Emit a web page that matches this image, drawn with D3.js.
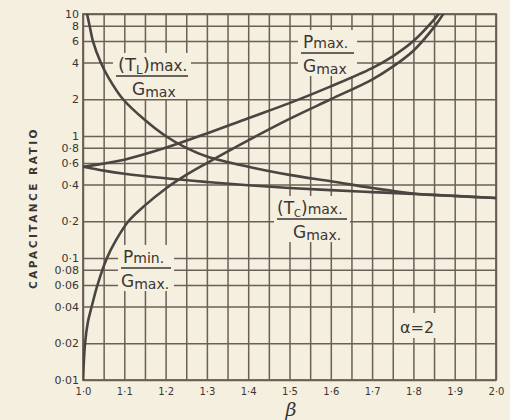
<!DOCTYPE html>
<html>
<head>
<meta charset="utf-8">
<script src="https://cdn.jsdelivr.net/npm/d3@7"></script>
<style>
body { margin: 0; background: #f4efdf; }
svg { display: block; }
</style>
</head>
<body>
<div id="chart"></div>
<script>
// values (alpha = 2)
const tl_beta = [1.005, 1.01, 1.016, 1.024, 1.043, 1.062, 1.097, 1.15, 1.2, 1.25, 1.3, 1.4, 1.5, 1.6, 1.7, 1.8, 1.9, 2.0];
const tl_vals = [12.5, 10, 8, 6, 4, 3, 2, 1.35, 1.0, 0.8, 0.68, 0.56, 0.48, 0.425, 0.375, 0.338, 0.323, 0.31];

const tc_beta = [1.0, 1.05, 1.1, 1.2, 1.3, 1.4, 1.5, 1.6, 1.7, 1.8, 1.9, 2.0];
const tc_vals = [0.56, 0.52, 0.49, 0.45, 0.42, 0.395, 0.375, 0.36, 0.347, 0.335, 0.322, 0.31];

const pmax_beta = [1.0, 1.1, 1.2, 1.3, 1.4, 1.5, 1.6, 1.7, 1.75, 1.8, 1.85, 1.88];
const pmax_vals = [0.56, 0.64, 0.8, 1.05, 1.4, 1.86, 2.55, 3.6, 4.5, 6.0, 9.0, 12];

const pmin_beta = [1.0, 1.005, 1.012, 1.021, 1.035, 1.058, 1.08, 1.11, 1.15, 1.2, 1.25, 1.3, 1.4, 1.5, 1.6, 1.7, 1.75, 1.8, 1.85, 1.88];
const pmin_vals = [0.01, 0.02, 0.03, 0.04, 0.06, 0.1, 0.14, 0.2, 0.27, 0.37, 0.48, 0.6, 0.92, 1.38, 2.0, 2.9, 3.7, 5.0, 7.8, 11];

// axis ticks and their printed labels
const x_ticks = [1.0, 1.1, 1.2, 1.3, 1.4, 1.5, 1.6, 1.7, 1.8, 1.9, 2.0];
const x_labels = ["1·0", "1·1", "1·2", "1·3", "1·4", "1·5", "1·6", "1·7", "1·8", "1·9", "2·0"];
const y_ticks = [10, 8, 6, 4, 2, 1, 0.8, 0.6, 0.4, 0.2, 0.1, 0.08, 0.06, 0.04, 0.02, 0.01];
const y_labels = ["10", "8", "6", "4", "2", "1", "0·8", "0·6", "0·4", "0·2", "0·1", "0·08", "0·06", "0·04", "0·02", "0·01"];

const width = 510, height = 420;
const plotLeft = 83, plotRight = 496, plotTop = 14, plotBottom = 380;
const bg = "#f4efdf", ink = "#3b3532", gridColor = "#6c5f57", curveColor = "#4a4540";
const font = "DejaVu Sans, sans-serif";

const x = d3.scaleLinear().domain([1, 2]).range([plotLeft, plotRight]);
const y = d3.scaleLog().domain([0.01, 10]).range([plotBottom, plotTop]);

const svg = d3.select("#chart")
    .append("svg")
    .attr("width", width)
    .attr("height", height)
    .style("background", bg);

// grid: every 0.05 in beta, every printed tick in ratio
const x_grid = d3.range(1, 2.0001, 0.05);
svg.append("g")
    .attr("transform", `translate(0,${plotBottom})`)
    .call(d3.axisBottom(x).tickValues(x_grid).tickSize(-(plotBottom - plotTop)).tickFormat(""))
    .call(g => g.select(".domain").remove())
    .selectAll("line")
    .attr("stroke", gridColor)
    .attr("stroke-width", 1.5);

svg.append("g")
    .attr("transform", `translate(${plotLeft},0)`)
    .call(d3.axisLeft(y).tickValues(y_ticks).tickSize(-(plotRight - plotLeft)).tickFormat(""))
    .call(g => g.select(".domain").remove())
    .selectAll("line")
    .attr("stroke", gridColor)
    .attr("stroke-width", 1.5);

svg.append("rect")
    .attr("x", plotLeft).attr("y", plotTop)
    .attr("width", plotRight - plotLeft).attr("height", plotBottom - plotTop)
    .attr("fill", "none")
    .attr("stroke", gridColor)
    .attr("stroke-width", 1.8);

// tick labels
svg.append("g")
    .attr("transform", `translate(0,${plotBottom})`)
    .call(d3.axisBottom(x).tickValues(x_ticks).tickSize(0).tickPadding(8)
        .tickFormat(d => x_labels[x_ticks.indexOf(d)]))
    .call(g => g.select(".domain").remove())
    .selectAll("text")
    .attr("fill", ink)
    .attr("font-family", font)
    .attr("font-size", 10);

svg.append("g")
    .attr("transform", `translate(${plotLeft},0)`)
    .call(d3.axisLeft(y).tickValues(y_ticks).tickSize(0).tickPadding(4)
        .tickFormat(d => y_labels[y_ticks.indexOf(d)]))
    .call(g => g.select(".domain").remove())
    .selectAll("text")
    .attr("fill", ink)
    .attr("font-family", font)
    .attr("font-size", 11);

// axis titles
svg.append("text")
    .attr("transform", `translate(37,208) rotate(-90)`)
    .attr("text-anchor", "middle")
    .attr("fill", ink)
    .attr("font-family", font)
    .attr("font-size", 10.5)
    .attr("font-weight", "bold")
    .attr("letter-spacing", 2.5)
    .text("CAPACITANCE RATIO");

svg.append("text")
    .attr("x", 291).attr("y", 416)
    .attr("text-anchor", "middle")
    .attr("fill", ink)
    .attr("font-family", "DejaVu Serif, serif")
    .attr("font-style", "italic")
    .attr("font-size", 19)
    .text("β");

// labels sit on a patch of paper that hides the grid
function fraction(num, den, x0, y0, w) {
    const g = svg.append("g");
    g.append("rect")
        .attr("x", x0 - 3).attr("y", y0 - 18)
        .attr("width", w + 6).attr("height", 46)
        .attr("fill", bg);
    const t1 = g.append("text")
        .attr("x", num.dx + x0).attr("y", y0)
        .attr("fill", ink)
        .attr("font-family", font);
    num.parts.forEach(p => t1.append("tspan").text(p[0]).attr("font-size", p[1]).attr("dy", p[2]));
    g.append("line")
        .attr("x1", x0).attr("x2", x0 + w)
        .attr("y1", y0 + 5).attr("y2", y0 + 5)
        .attr("stroke", ink).attr("stroke-width", 1.3);
    const t2 = g.append("text")
        .attr("x", den.dx + x0).attr("y", y0 + 24)
        .attr("fill", ink)
        .attr("font-family", font);
    den.parts.forEach(p => t2.append("tspan").text(p[0]).attr("font-size", p[1]).attr("dy", p[2]));
}

const gmax = [["G", 17, 0], ["max", 14, 2]];

fraction({dx: 2, parts: [["(T", 18, 0], ["L", 12, 3], [")", 18, -3], ["max.", 15, 0]]},
    {dx: 16, parts: gmax}, 116, 71, 72);
fraction({dx: 2, parts: [["P", 17, 0], ["max.", 14, 0]]},
    {dx: 2, parts: gmax}, 301, 48, 53);
fraction({dx: 2, parts: [["P", 17, 0], ["min.", 14, 0]]},
    {dx: 0, parts: [["G", 17, 0], ["max.", 14, 2]]}, 121, 263, 50);
fraction({dx: 0, parts: [["(T", 17, 0], ["C", 10, 3], [")", 17, -3], ["max.", 14, 0]]},
    {dx: 16, parts: [["G", 17, 0], ["max.", 14, 2]]}, 277, 214, 70);

svg.append("rect")
    .attr("x", 396).attr("y", 313)
    .attr("width", 42).attr("height", 25)
    .attr("fill", bg);
svg.append("text")
    .attr("x", 400).attr("y", 333)
    .attr("fill", ink)
    .attr("font-family", font)
    .attr("font-size", 16)
    .text("α=2");

// curves
svg.append("clipPath")
    .attr("id", "plot")
    .append("rect")
    .attr("x", plotLeft).attr("y", plotTop)
    .attr("width", plotRight - plotLeft).attr("height", plotBottom - plotTop);

const line = d3.line()
    .x(d => x(d[0]))
    .y(d => y(d[1]))
    .curve(d3.curveCatmullRom.alpha(0.5));

const curves = [
    d3.zip(tl_beta, tl_vals),
    d3.zip(tc_beta, tc_vals),
    d3.zip(pmax_beta, pmax_vals),
    d3.zip(pmin_beta, pmin_vals)
];

svg.append("g")
    .attr("clip-path", "url(#plot)")
    .selectAll("path")
    .data(curves)
    .join("path")
    .attr("d", line)
    .attr("fill", "none")
    .attr("stroke", curveColor)
    .attr("stroke-width", 2.6)
    .attr("stroke-linecap", "round");
</script>
</body>
</html>
